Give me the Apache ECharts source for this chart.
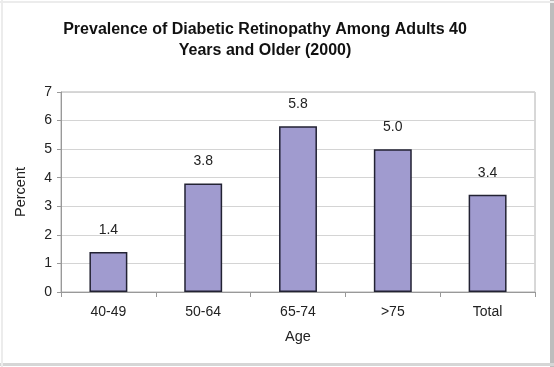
<!DOCTYPE html>
<html><head><meta charset="utf-8">
<script src="https://cdn.jsdelivr.net/npm/echarts@6/dist/echarts.min.js"></script>
<style>html,body{margin:0;padding:0;background:#fff}#c{width:554px;height:367px}</style>
</head><body><div id="c"></div>
<script>
const categories = ['40-49', '50-64', '65-74', '>75', 'Total'];
const percentValues = [1.4, 3.8, 5.8, 5.0, 3.4];
const yTicks = [0, 1, 2, 3, 4, 5, 6, 7];

const chart = echarts.init(document.getElementById('c'), null, {renderer: 'canvas'});
const font = 'Liberation Sans, Arial, sans-serif';
chart.setOption({
  animation: false,
  backgroundColor: '#fff',
  title: {
    text: 'Prevalence of Diabetic Retinopathy Among Adults 40\nYears and Older (2000)',
    left: 260, top: 14, textAlign: 'center',
    textStyle: {fontFamily: font, fontSize: 16, fontWeight: 'bold', color: '#111', lineHeight: 21}
  },
  graphic: [
    {type: 'rect', shape: {x: 550, y: 0, width: 4, height: 367}, style: {fill: '#bdbdbd'}, silent: true},
    {type: 'rect', shape: {x: 0, y: 363, width: 554, height: 3}, style: {fill: '#d6d6d6'}, silent: true},
    {type: 'rect', shape: {x: 1, y: 0, width: 2, height: 367}, style: {fill: '#ececec'}, silent: true},
    {type: 'rect', shape: {x: 0, y: 1, width: 554, height: 2}, style: {fill: '#ececec'}, silent: true}
  ],
  grid: {left: 61, right: 19, top: 92, bottom: 75, show: true, borderColor: '#b0b0b0', borderWidth: 1},
  xAxis: {
    type: 'category', data: categories,
    name: 'Age', nameLocation: 'middle', nameGap: 37,
    nameTextStyle: {fontFamily: font, fontSize: 14.5, color: '#222'},
    axisLine: {lineStyle: {color: '#999', width: 1}},
    axisTick: {show: true, length: 5, lineStyle: {color: '#999'}},
    axisLabel: {fontFamily: font, fontSize: 14, color: '#222', margin: 13}
  },
  yAxis: {
    type: 'value', min: yTicks[0], max: yTicks[yTicks.length - 1], interval: 1,
    name: 'Percent', nameLocation: 'middle', nameGap: 33,
    nameTextStyle: {fontFamily: font, fontSize: 14.5, color: '#222'},
    axisLine: {show: true, lineStyle: {color: '#999', width: 1}},
    axisTick: {show: true, length: 4, lineStyle: {color: '#999'}},
    axisLabel: {fontFamily: font, fontSize: 14, color: '#222', margin: 9},
    splitLine: {lineStyle: {color: '#d4d4d4', width: 1}}
  },
  series: [{
    type: 'bar', data: percentValues, barWidth: '40%',
    itemStyle: {color: '#a09bcf', borderColor: '#222233', borderWidth: 1.5},
    label: {show: true, position: 'top', distance: 15, formatter: p => p.value.toFixed(1),
      fontFamily: font, fontSize: 14, color: '#222'}
  }]
});
</script></body></html>
